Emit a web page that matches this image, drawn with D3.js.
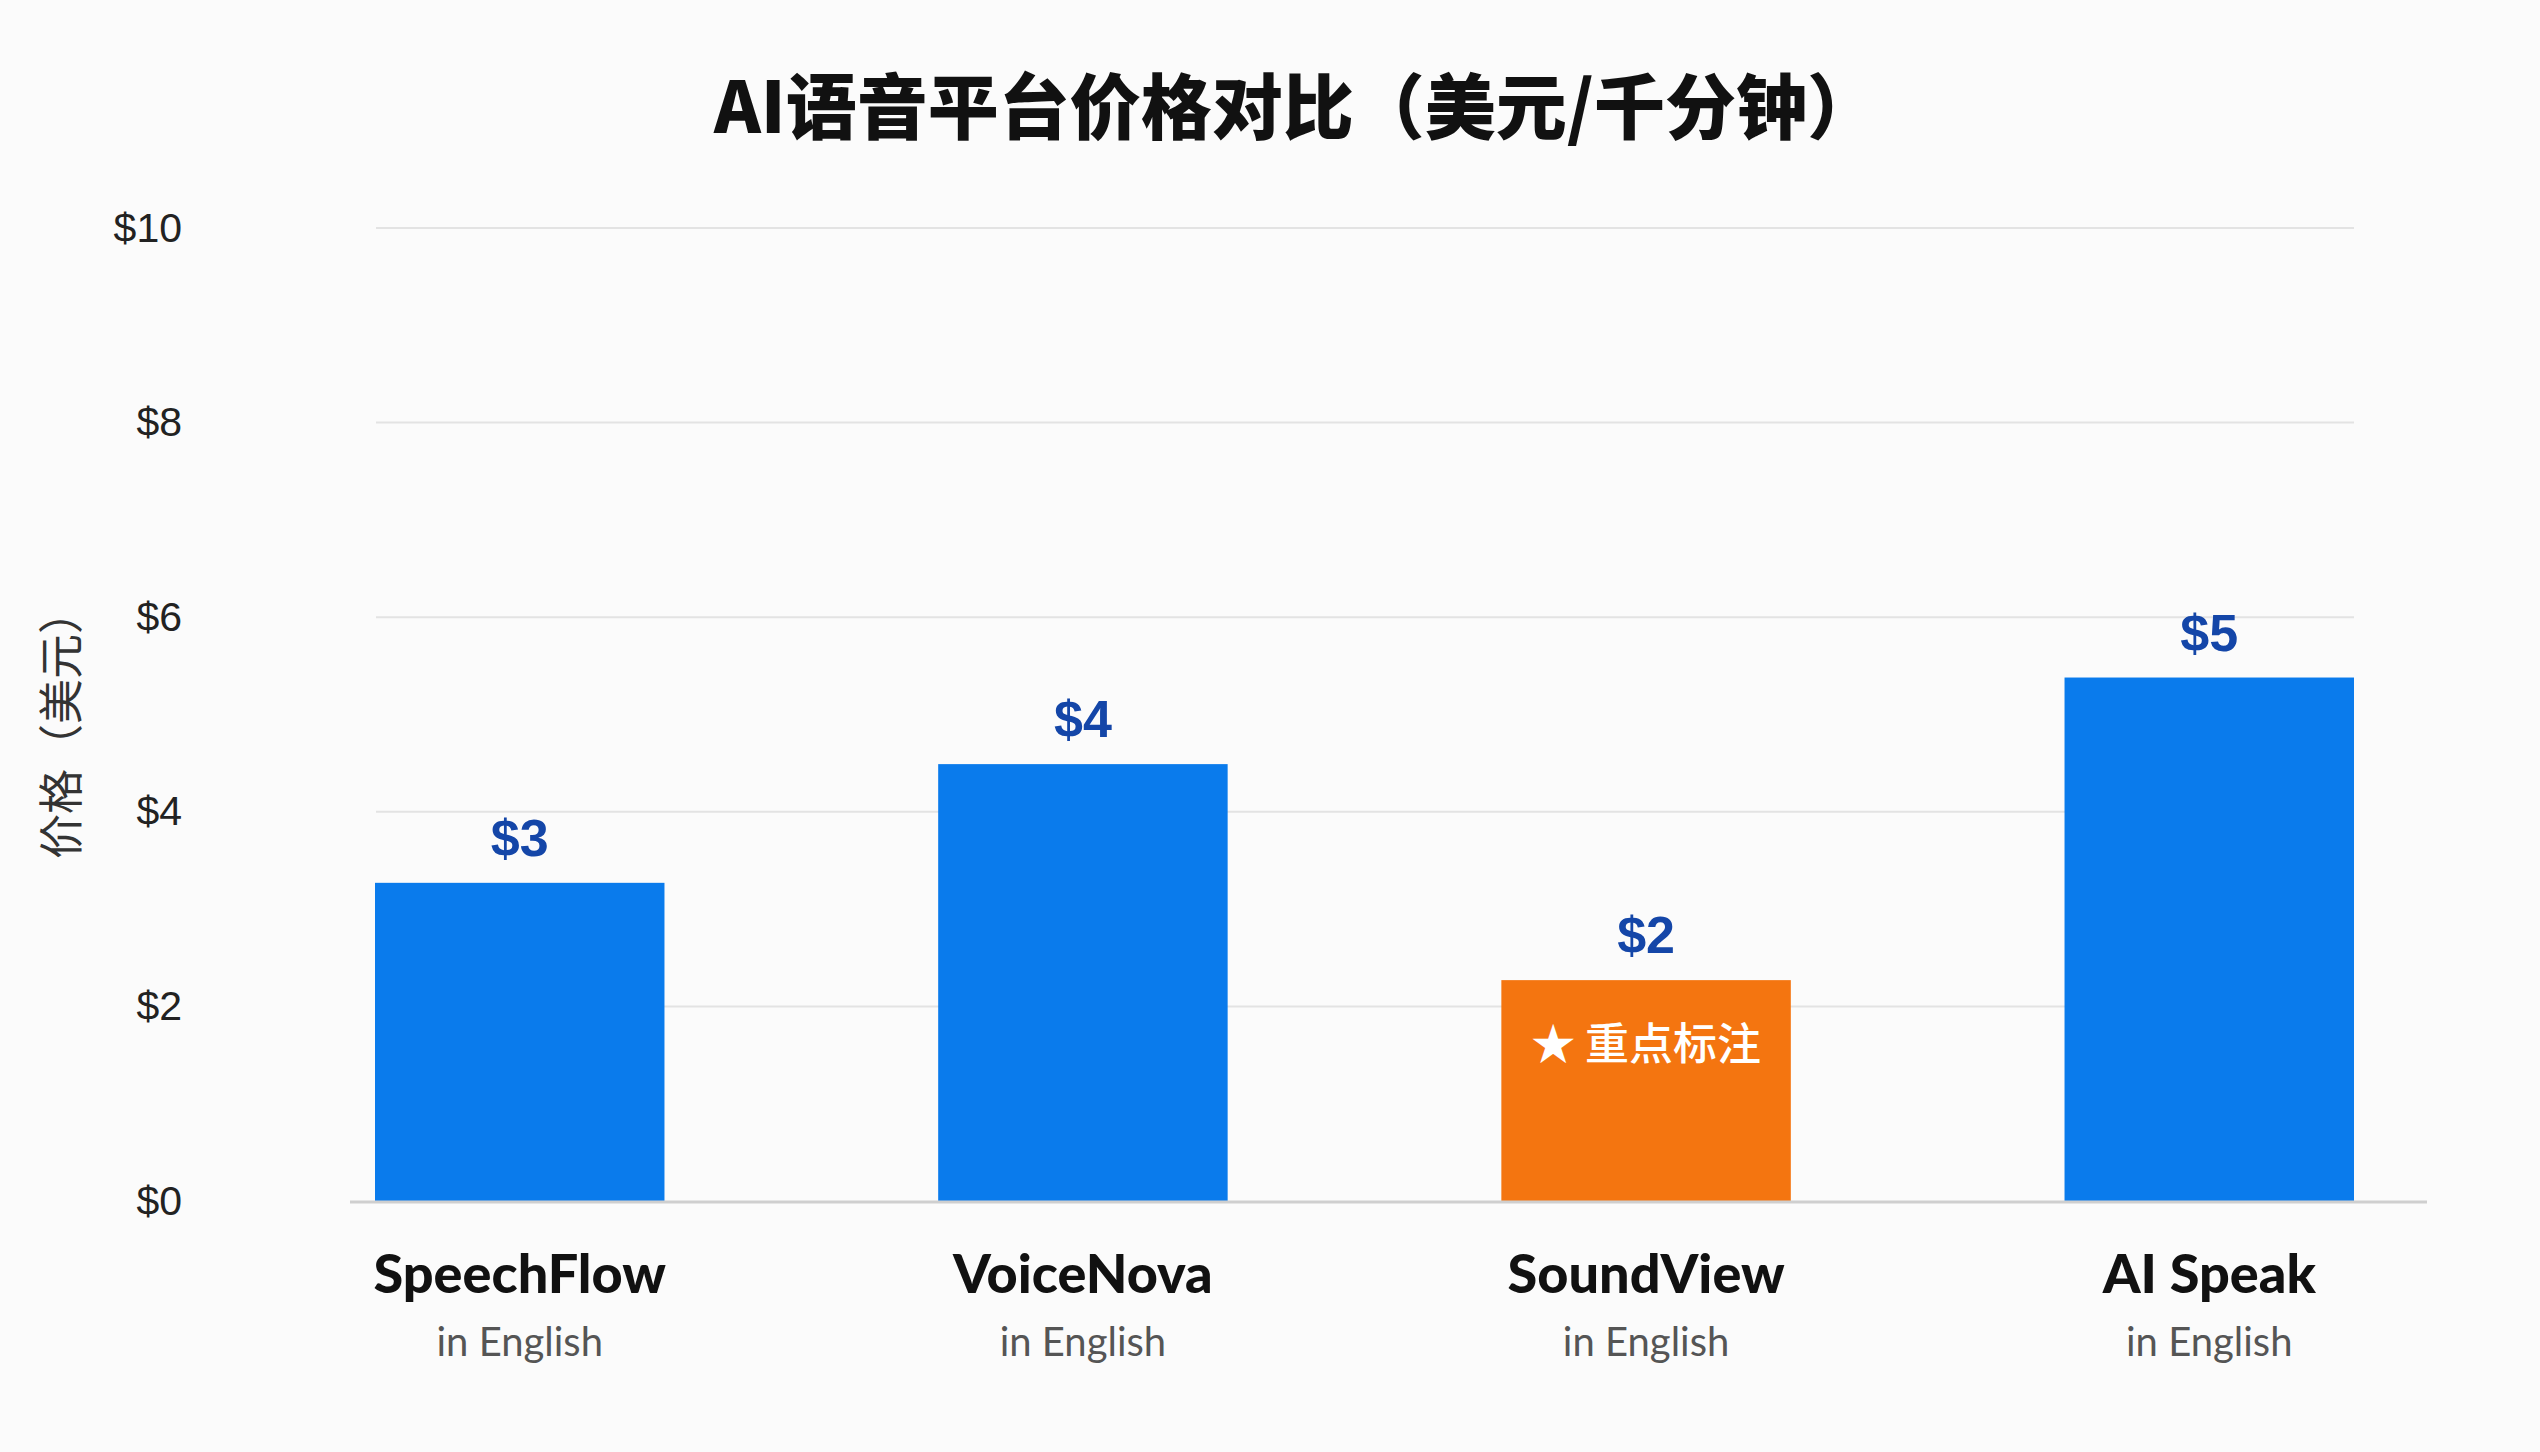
<!DOCTYPE html>
<html>
<head>
<meta charset="utf-8">
<script src="https://cdn.jsdelivr.net/npm/d3@7"></script>
<style>
  html, body { margin: 0; padding: 0; background: #fbfbfb; }
  svg { display: block; }
</style>
</head>
<body>
<div id="chart"></div>
<script>
// chart data
var platforms = ["SpeechFlow", "VoiceNova", "SoundView", "AI Speak"];
var subLabels = ["in English", "in English", "in English", "in English"];
var prices = [3.27, 4.49, 2.27, 5.38];
var highlighted = ["SoundView"];
var yTicks = [0, 2, 4, 6, 8, 10];

var W = 2540, H = 1452;
var svg = d3.select("#chart").append("svg")
    .attr("width", W)
    .attr("height", H);

svg.append("rect").attr("width", W).attr("height", H).attr("fill", "#fbfbfb");

var x = d3.scaleBand()
    .domain(platforms)
    .range([375, 2354])
    .paddingInner(0.486)
    .paddingOuter(0);

var y = d3.scaleLinear()
    .domain([0, 10])
    .range([1201, 228]);

// title
svg.append("text")
    .attr("x", 1296)
    .attr("y", 133)
    .attr("text-anchor", "middle")
    .style("font-family", "'Noto Sans CJK SC', sans-serif")
    .style("font-weight", 900)
    .style("font-size", "71px")
    .style("fill", "#111")
    .text("AI语音平台价格对比（美元/千分钟）");

// gridlines
svg.append("g")
    .selectAll("line")
    .data(yTicks.filter(function(d) { return d > 0; }))
    .join("line")
    .attr("x1", 376)
    .attr("x2", 2354)
    .attr("y1", function(d) { return y(d); })
    .attr("y2", function(d) { return y(d); })
    .attr("stroke", "#e3e3e3")
    .attr("stroke-width", 2);

// y axis labels
var yAxis = d3.axisLeft(y)
    .tickValues(yTicks)
    .tickFormat(function(d) { return "$" + d; })
    .tickSize(0)
    .tickPadding(0);

var yg = svg.append("g")
    .attr("transform", "translate(182,0)")
    .call(yAxis);
yg.select(".domain").remove();
yg.selectAll("text")
    .style("font-family", "'Liberation Sans', Arial, sans-serif")
    .style("font-size", "41px")
    .style("fill", "#222");

// y axis title
svg.append("text")
    .attr("transform", "translate(78,724) rotate(-90)")
    .attr("text-anchor", "middle")
    .style("font-family", "'Noto Sans CJK SC', sans-serif")
    .style("font-size", "45px")
    .style("fill", "#333")
    .text("价格（美元）");

// bars
svg.append("g")
    .selectAll("rect")
    .data(platforms)
    .join("rect")
    .attr("x", function(d) { return x(d); })
    .attr("y", function(d, i) { return y(prices[i]); })
    .attr("width", x.bandwidth())
    .attr("height", function(d, i) { return y(0) - y(prices[i]); })
    .attr("fill", function(d) {
      return highlighted.indexOf(d) >= 0 ? "#f47510" : "#0a7bec";
    });

// baseline
svg.append("line")
    .attr("x1", 350)
    .attr("x2", 2427)
    .attr("y1", y(0) + 1)
    .attr("y2", y(0) + 1)
    .attr("stroke", "#cfcfcf")
    .attr("stroke-width", 3);

// value labels
svg.append("g")
    .selectAll("text")
    .data(platforms)
    .join("text")
    .attr("x", function(d) { return x(d) + x.bandwidth() / 2; })
    .attr("y", function(d, i) { return y(prices[i]) - 27; })
    .attr("text-anchor", "middle")
    .style("font-family", "'Liberation Sans', Arial, sans-serif")
    .style("font-weight", "bold")
    .style("font-size", "52px")
    .style("fill", "#1446a8")
    .text(function(d, i) { return d3.format("$.0f")(prices[i]); });

// highlight note inside the orange bar
svg.append("g")
    .selectAll("text")
    .data(platforms.filter(function(d) { return highlighted.indexOf(d) >= 0; }))
    .join("text")
    .attr("x", function(d) { return x(d) + x.bandwidth() / 2; })
    .attr("y", function(d) { return y(prices[platforms.indexOf(d)]) + 80; })
    .attr("text-anchor", "middle")
    .style("font-family", "'Noto Sans CJK SC', sans-serif")
    .style("font-weight", 500)
    .style("font-size", "44px")
    .style("fill", "#fff")
    .text("★ 重点标注");

// category labels
var cats = svg.append("g")
    .selectAll("g")
    .data(platforms)
    .join("g")
    .attr("transform", function(d) {
      return "translate(" + (x(d) + x.bandwidth() / 2) + ",0)";
    });

cats.append("text")
    .attr("y", 1293)
    .attr("text-anchor", "middle")
    .style("font-family", "Lato, sans-serif")
    .style("font-weight", 900)
    .style("font-size", "54px")
    .style("fill", "#111")
    .text(function(d) { return d; });

cats.append("text")
    .attr("y", 1356)
    .attr("text-anchor", "middle")
    .style("font-family", "Lato, sans-serif")
    .style("font-size", "40px")
    .style("fill", "#555")
    .text(function(d, i) { return subLabels[i]; });
</script>
</body>
</html>
